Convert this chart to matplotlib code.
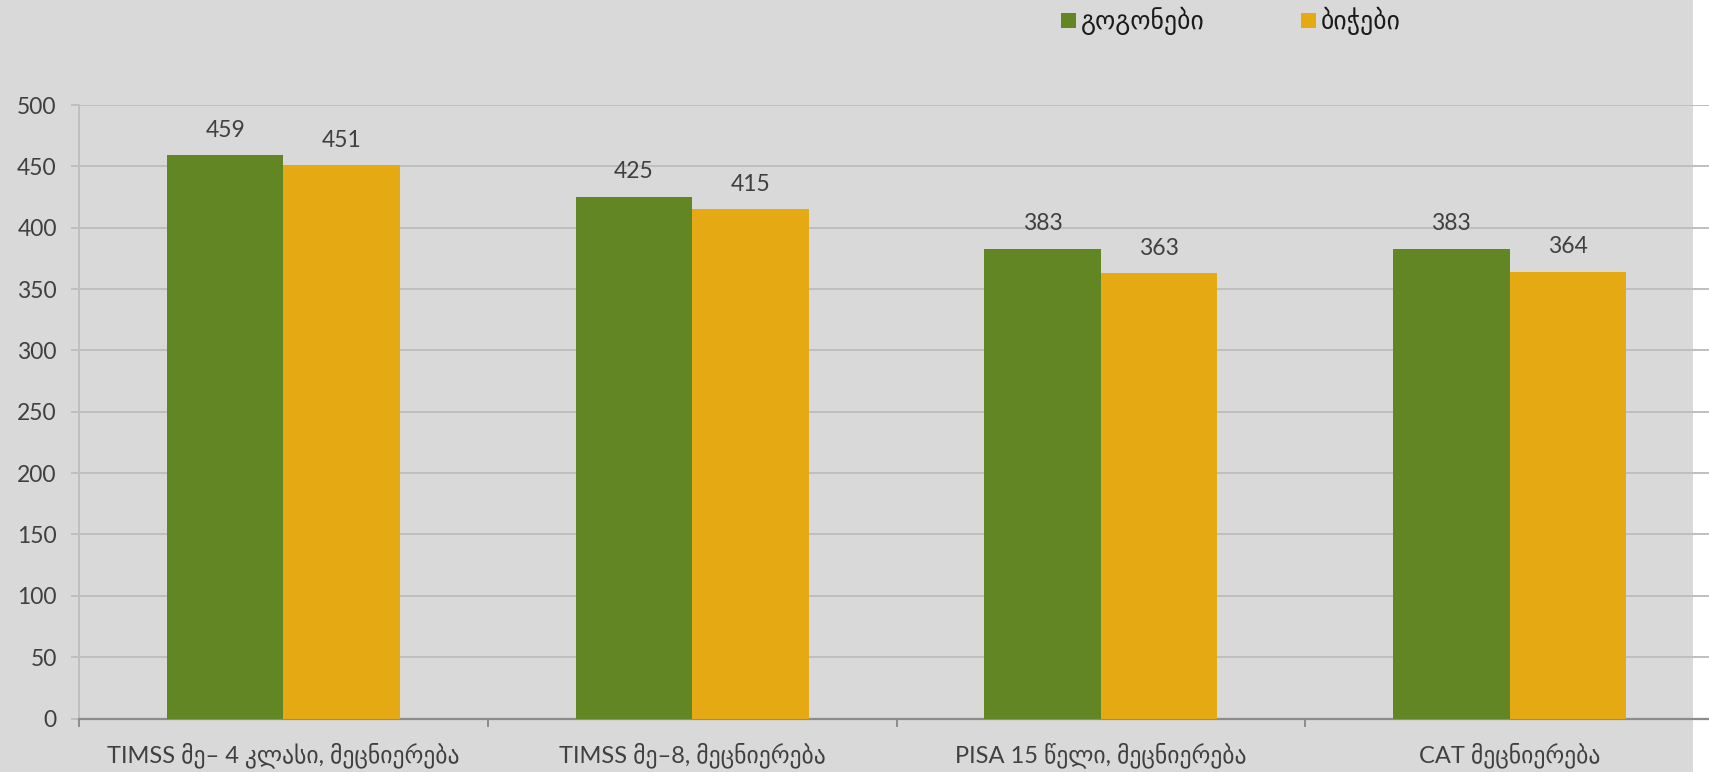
import matplotlib
matplotlib.use("Agg")
import matplotlib.pyplot as plt
from matplotlib.patches import Rectangle
import numpy as np

plt.rcParams['font.family'] = ['Lato', 'DejaVu Sans']

categories = ["TIMSS მე– 4 კლასი, მეცნიერება",
              "TIMSS მე–8, მეცნიერება",
              "PISA 15 წელი, მეცნიერება",
              "CAT მეცნიერება"]
girls = [459, 425, 383, 383]
boys = [451, 415, 363, 364]
series_names = ["გოგონები", "ბიჭები"]
yticks = list(range(0, 501, 50))

GREEN = "#638625"
ORANGE = "#E5A913"
BG = "#D9D9D9"
GRID = "#BFBFBF"
TEXT = "#404040"

W, H = 1709, 772
fig = plt.figure(figsize=(W / 100, H / 100), dpi=100, facecolor="white")

# grey chart panel (stops short of the right edge)
fig.patches.append(Rectangle((0, 0), 1693 / W, 1, transform=fig.transFigure,
                             facecolor=BG, edgecolor="none", zorder=-10))

left, right = 79 / W, 1714 / W
bottom, top = (H - 718.5) / H, (H - 105) / H
ax = fig.add_axes([left, bottom, right - left, top - bottom])
ax.set_facecolor("none")

x = np.arange(len(categories))
bw = 0.285
b1 = ax.bar(x - bw / 2, girls, bw, color=GREEN, zorder=3)
b2 = ax.bar(x + bw / 2, boys, bw, color=ORANGE, zorder=3)

fs = 16.5
ax.bar_label(b1, padding=10.5, fontsize=fs, color=TEXT)
ax.bar_label(b2, padding=10.5, fontsize=fs, color=TEXT)

ax.set_xlim(-0.5, len(categories) - 0.5)
ax.set_ylim(0, 500)
ax.set_yticks(yticks)
ax.yaxis.grid(True, color=GRID, linewidth=1.4, zorder=0)
ax.set_axisbelow(True)

ax.set_xticks(x)
ax.set_xticklabels(categories, fontsize=17, color=TEXT)
ax.set_xticks(np.arange(-0.5, len(categories), 1.0), minor=True)
ax.tick_params(axis="x", which="major", length=0, pad=17)
ax.tick_params(axis="x", which="minor", length=6, width=1.4, color="#8C8C8C")
ax.tick_params(axis="y", length=6, width=1.4, color=GRID, labelsize=fs,
               labelcolor=TEXT, pad=10)

for s in ("top", "right"):
    ax.spines[s].set_visible(False)
ax.spines["left"].set_color(GRID)
ax.spines["left"].set_linewidth(1.4)
ax.spines["bottom"].set_color("#8C8C8C")
ax.spines["bottom"].set_linewidth(1.6)

# legend across the top
sq = 15
for px, color, name in [(1061, GREEN, series_names[0]), (1301, ORANGE, series_names[1])]:
    fig.patches.append(Rectangle((px / W, (H - 28) / H), sq / W, sq / H,
                                 transform=fig.transFigure, facecolor=color,
                                 edgecolor="none", zorder=5))
    fig.text((px + 20) / W, (H - 21) / H, name, fontsize=18.5, color="#1a1a1a",
             va="center", ha="left")

fig.savefig("out.png", dpi=100, facecolor=fig.get_facecolor())
